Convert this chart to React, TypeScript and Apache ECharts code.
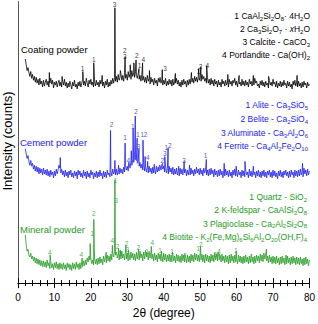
import React, { useEffect, useRef } from "react";
import * as echarts from "echarts";

// x grid of the base traces: 2° .. 80° in 0.25° steps
const X_START = 2;
const X_STEP = 0.25;

// Coating powder (black) – displayed intensity, offset trace
const coatingBase = [
  232, 226, 220, 223, 218, 214, 219, 212, 216, 210, 214, 208, 213, 207, 211, 205, 212, 206, 209, 203,
  210, 204, 208, 211, 205, 209, 203, 207, 212, 206, 210, 202, 208, 205, 209, 203, 207, 210, 204, 208,
  203, 209, 205, 211, 204, 208, 202, 207, 203, 209, 205, 201, 208, 204, 210, 203, 206, 201, 208, 204,
  209, 203, 207, 211, 205, 209, 204, 212, 207, 203, 210, 206, 211, 205, 208, 203, 209, 204, 210, 205,
  208, 203, 210, 206, 211, 204, 208, 202, 209, 205, 211, 203, 208, 204, 210, 206, 212, 207, 213, 209,
  214, 208, 216, 210, 213, 217, 210, 215, 209, 218, 212, 216, 210, 219, 213, 217, 211, 220, 214, 218,
  213, 219, 215, 212, 217, 211, 215, 209, 216, 210, 214, 208, 213, 207, 215, 209, 212, 206, 213, 208,
  211, 205, 212, 207, 210, 204, 212, 208, 213, 207, 211, 205, 210, 206, 212, 204, 209, 205, 211, 206,
  210, 204, 211, 205, 209, 207, 212, 206, 210, 204, 208, 203, 210, 205, 211, 206, 209, 203, 210, 205,
  211, 206, 213, 208, 212, 207, 214, 209, 213, 208, 215, 210, 213, 209, 216, 211, 214, 209, 212, 207,
  213, 207, 211, 205, 212, 206, 210, 204, 211, 206, 209, 203, 210, 205, 208, 203, 211, 206, 209, 204,
  210, 205, 208, 203, 211, 206, 209, 204, 210, 207, 212, 205, 209, 203, 210, 206, 208, 204, 211, 205,
  209, 204, 210, 205, 208, 203, 211, 206, 209, 204, 210, 205, 212, 207, 209, 204, 206, 202, 209, 205,
  210, 204, 208, 203, 209, 205, 207, 202, 210, 205, 208, 204, 211, 206, 208, 203, 209, 202, 207, 204,
  209, 203, 208, 204, 210, 205, 207, 202, 209, 204, 208, 203, 206, 201, 209, 205, 210, 204, 208, 203,
  209, 204, 207, 202, 208, 203, 209, 205, 207, 202, 208, 204, 206,
];
const coatingPeaks = [
  [8.6, 218], [12.1, 214], [17.8, 219], [20.8, 228], [23.1, 215], [26.6, 285],
  [28.1, 220], [29.4, 234], [30.8, 226], [31.8, 228], [32.4, 231], [33.2, 222],
  [34.2, 228], [36.1, 220], [39.6, 221], [43.2, 217], [47.6, 218], [49.6, 222],
  [50.2, 224], [51.8, 225], [57.6, 216], [60.7, 215], [64.6, 215], [68.8, 214],
  [76.6, 215],
];

// Cement powder (blue)
const cementBase = [
  139, 134, 129, 132, 126, 122, 127, 121, 124, 118, 122, 116, 121, 115, 120, 113, 119, 114, 118, 112,
  119, 113, 117, 112, 118, 111, 116, 110, 117, 112, 115, 109, 116, 111, 118, 113, 117, 122, 119, 114,
  118, 112, 116, 110, 117, 111, 115, 109, 116, 112, 117, 110, 114, 109, 116, 111, 115, 108, 117, 112,
  116, 110, 114, 109, 117, 111, 115, 108, 116, 110, 114, 109, 117, 112, 115, 108, 114, 110, 116, 109,
  115, 110, 117, 111, 114, 108, 116, 110, 115, 109, 117, 112, 114, 110, 116, 111, 118, 113, 116, 112,
  118, 112, 117, 113, 119, 114, 118, 113, 120, 115, 122, 117, 121, 116, 124, 119, 126, 122, 128, 125,
  130, 128, 127, 124, 126, 121, 125, 119, 123, 117, 122, 116, 121, 115, 120, 114, 121, 115, 119, 113,
  120, 114, 119, 113, 121, 115, 120, 116, 122, 117, 123, 118, 121, 115, 120, 114, 119, 113, 121, 115,
  119, 113, 120, 112, 118, 113, 119, 112, 117, 111, 119, 113, 118, 112, 120, 114, 118, 111, 117, 112,
  118, 112, 119, 113, 117, 111, 118, 113, 120, 114, 118, 112, 119, 113, 117, 111, 119, 114, 118, 112,
  117, 111, 118, 112, 119, 113, 117, 110, 118, 112, 116, 110, 117, 111, 118, 112, 116, 109, 117, 111,
  118, 112, 116, 110, 117, 111, 115, 109, 117, 112, 118, 111, 116, 110, 117, 112, 115, 109, 117, 111,
  116, 110, 117, 112, 115, 109, 118, 111, 116, 110, 117, 112, 115, 109, 116, 111, 117, 110, 115, 109,
  116, 111, 117, 110, 115, 109, 116, 112, 117, 110, 115, 109, 117, 111, 116, 110, 114, 108, 116, 111,
  117, 110, 115, 109, 116, 112, 117, 111, 115, 109, 116, 110, 117, 112, 115, 109, 117, 111, 116, 110,
  117, 111, 118, 112, 116, 110, 119, 113, 117, 111, 118, 112, 116,
];
const cementPeaks = [
  [11.6, 130], [25.4, 158], [26.6, 127], [27.6, 122], [29.4, 145], [30.4, 125],
  [31.1, 137], [31.6, 160], [32.2, 173], [32.7, 150], [33.2, 139], [34.3, 148],
  [34.9, 131], [35.6, 126], [37.4, 123], [38.8, 122], [39.7, 124], [40.3, 131],
  [41.2, 140], [44.1, 121], [45.6, 126], [47.1, 122], [51.7, 128], [56.6, 124],
  [59.9, 121], [62.3, 126], [64.6, 121], [78.1, 124],
];

// Mineral powder (green)
const mineralBase = [
  50, 40, 33, 35, 29, 27, 31, 25, 28, 23, 27, 21, 26, 20, 25, 19, 24, 18, 23, 17,
  23, 17, 22, 16, 24, 18, 21, 15, 22, 16, 20, 14, 21, 16, 22, 15, 20, 14, 21, 15,
  20, 14, 21, 15, 19, 13, 21, 16, 20, 14, 19, 13, 21, 15, 20, 14, 22, 16, 20, 14,
  21, 15, 22, 17, 23, 18, 24, 19, 26, 22, 28, 24, 25, 20, 24, 19, 26, 20, 25, 19,
  26, 20, 27, 21, 25, 19, 28, 22, 27, 21, 29, 23, 28, 22, 30, 24, 31, 27, 33, 29,
  32, 26, 30, 24, 31, 25, 33, 26, 30, 24, 32, 25, 31, 23, 30, 24, 32, 26, 31, 24,
  30, 23, 32, 25, 31, 24, 33, 26, 30, 23, 32, 25, 34, 27, 31, 24, 33, 26, 32, 25,
  30, 23, 31, 24, 29, 22, 31, 25, 30, 23, 29, 22, 31, 24, 30, 22, 29, 23, 30, 22,
  29, 22, 30, 23, 28, 21, 30, 23, 29, 22, 28, 21, 30, 23, 29, 22, 28, 21, 29, 22,
  28, 21, 30, 23, 29, 22, 31, 24, 30, 23, 29, 22, 31, 24, 30, 22, 29, 21, 30, 23,
  29, 22, 28, 21, 30, 23, 29, 22, 31, 24, 30, 23, 32, 24, 29, 22, 30, 23, 28, 21,
  29, 22, 28, 20, 29, 21, 30, 23, 28, 21, 29, 22, 27, 20, 29, 22, 28, 21, 27, 20,
  28, 21, 29, 22, 27, 20, 28, 21, 29, 22, 27, 20, 28, 21, 29, 23, 28, 21, 30, 23,
  29, 22, 31, 25, 30, 23, 28, 21, 29, 22, 27, 20, 28, 21, 27, 20, 28, 21, 26, 19,
  27, 20, 28, 21, 26, 19, 27, 20, 28, 21, 26, 19, 27, 20, 28, 21, 26, 19, 27, 20,
  26, 19, 27, 20, 25, 18, 26, 19, 27, 20, 25, 18, 24,
];
const mineralPeaks = [
  [8.8, 29], [17.6, 26], [19.8, 41], [20.8, 66], [24.2, 32], [25.9, 39],
  [26.6, 107], [27.6, 36], [28.1, 34], [29.6, 39], [30.3, 34], [33.1, 35],
  [35.3, 32], [36.6, 38], [39.4, 33], [42.4, 32], [45.8, 31], [50.1, 38],
  [54.8, 31], [55.3, 30], [59.9, 33], [64.1, 30], [68.2, 35], [73.6, 29],
];

// Peak index labels: [2θ, height, label]
const coatingLabels: [number, number, string][] = [
  [17.7, 222, "1"], [20.8, 231, "1"], [26.5, 288, "3"], [29.3, 241, "2"], [29.3, 235, "3"],
  [32.6, 236, "2"], [33.4, 225, "1"], [34.4, 231, "4"], [40.4, 222, "3"], [49.5, 219, "1"],
  [50.1, 224, "2"], [52.0, 225, "4"],
];
const cementLabels: [number, number, string][] = [
  [25.7, 164, "2"], [29.4, 151, "1"], [30.3, 127, "4"], [31.5, 162, "1"], [32.4, 178, "2"],
  [32.9, 154, "1"], [33.1, 141, "3"], [34.1, 154, "1"], [35.0, 154, "2"], [35.6, 130, "4"],
  [39.6, 127, "2"], [40.3, 134, "3"], [40.7, 140, "1"], [41.7, 142, "2"], [45.6, 127, "3"],
  [51.5, 132, "1"],
];
const mineralLabels: [number, number, string][] = [
  [8.7, 32, "4"], [17.4, 30, "4"], [20.3, 51, "1"], [20.8, 72, "2"], [25.9, 44, "4"],
  [26.8, 106, "1"], [27.0, 86, "3"], [27.3, 38, "2"], [28.1, 31, "3"], [29.8, 41, "2"],
  [30.0, 35, "3"], [33.0, 37, "2"], [35.5, 33, "1"], [36.9, 42, "4"], [39.0, 34, "1"],
  [42.3, 33, "1"], [49.4, 36, "1"], [50.2, 40, "2"], [54.1, 30, "3"], [55.1, 33, "4"],
  [59.8, 34, "1"],
];

const xTicks = [0, 10, 20, 30, 40, 50, 60, 70, 80];

const coatingLegend = [
  "{n|1 CaAl}{s|2}{n|Si}{s|2}{n|O}{s|8}{n|· 4H}{s|2}{n|O}",
  "{n|2 Ca}{s|3}{n|Si}{s|2}{n|O}{s|7}{n| · }{i|x}{n|H}{s|2}{n|O}",
  "{n|3 Calcite - CaCO}{s|3}",
  "{n|4 Portlandite - Ca(OH)}{s|2}",
];
const cementLegend = [
  "{n|1 Alite - Ca}{s|3}{n|SiO}{s|5}",
  "{n|2 Belite - Ca}{s|2}{n|SiO}{s|4}",
  "{n|3 Aluminate - Ca}{s|3}{n|Al}{s|2}{n|O}{s|6}",
  "{n|4 Ferrite - Ca}{s|4}{n|Al}{s|2}{n|Fe}{s|2}{n|O}{s|10}",
];
const mineralLegend = [
  "{n|1 Quartz - SiO}{s|2}",
  "{n|2 K-feldspar - CaAlSi}{s|3}{n|O}{s|8}",
  "{n|3 Plagioclase - Ca}{s|2}{n|Al}{s|2}{n|Si}{s|2}{n|O}{s|8}",
  "{n|4 Biotite - K}{s|2}{n|(Fe,Mg)}{s|6}{n|Si}{s|6}{n|Al}{s|2}{n|O}{s|20}{n|(OH,F)}{s|4}",
];

const BLACK = "#000000";
const BLUE = "#1a1af2";
const GREEN = "#239b23";
const FONT = "Liberation Sans, Arial, Helvetica, sans-serif";

function build(base: number[], peaks: number[][]) {
  const pts = base.map((v, i) => [X_START + i * X_STEP, v]);
  peaks.forEach((p) => pts.push([p[0], p[1]]));
  pts.sort((a, b) => a[0] - b[0]);
  return pts;
}

function lineSeries(name: string, base: number[], peaks: number[][], color: string) {
  return {
    name,
    type: "line",
    data: build(base, peaks),
    showSymbol: false,
    symbol: "none",
    itemStyle: { color },
    lineStyle: { color, width: 0.8 },
    z: 2,
  };
}

function labelSeries(labels: [number, number, string][], color: string) {
  return {
    type: "scatter",
    symbolSize: 0,
    silent: true,
    z: 5,
    itemStyle: { color },
    data: labels.map((l) => ({ value: [l[0], l[1]], name: l[2] })),
    label: {
      show: true,
      position: "inside",
      formatter: "{b}",
      color,
      textBorderWidth: 0,
      textBorderColor: "transparent",
      fontSize: 6.5,
      fontFamily: FONT,
    },
  };
}

function legendTexts(lines: string[], ys: number[], color: string, right: number) {
  return lines.map((t, i) => ({
    type: "text",
    x: right,
    y: ys[i],
    silent: true,
    style: {
      text: t,
      align: "right",
      verticalAlign: "middle",
      fill: color,
      rich: {
        n: { fontSize: 8.5, fontFamily: FONT, fill: color, lineHeight: 11, verticalAlign: "middle" },
        i: { fontSize: 8.5, fontFamily: FONT, fontStyle: "italic", fill: color, lineHeight: 11, verticalAlign: "middle" },
        s: { fontSize: 6, fontFamily: FONT, fill: color, lineHeight: 6, verticalAlign: "bottom" },
      },
    },
  }));
}

export default function App() {
  const ref = useRef<HTMLDivElement>(null);
  useEffect(() => {
    if (!ref.current) return;
    const chart = echarts.init(ref.current, undefined, { renderer: "svg" });
    const tickCommon = {
      type: "value",
      min: 0,
      max: 80,
      interval: 10,
      axisLine: { show: true, lineStyle: { color: BLACK, width: 1 } },
      axisTick: { show: true, inside: true, length: 5, lineStyle: { color: BLACK, width: 1 } },
      minorTick: { show: true, splitNumber: 5, length: 3, lineStyle: { color: BLACK, width: 1 } },
      splitLine: { show: false },
      minorSplitLine: { show: false },
    };
    chart.setOption({
      animation: false,
      backgroundColor: "#ffffff",
      textStyle: { fontFamily: FONT },
      grid: { left: 18, right: 7, top: 2, bottom: 31, containLabel: false },
      xAxis: [
        {
          ...tickCommon,
          position: "bottom",
          axisLabel: {
            show: true,
            color: BLACK,
            fontSize: 10,
            margin: 9,
            fontFamily: FONT,
            customValues: xTicks,
          },
          name: "2θ (degree)",
          nameLocation: "middle",
          nameGap: 20,
          nameTextStyle: { color: BLACK, fontSize: 12, fontFamily: FONT },
        },
        {
          ...tickCommon,
          position: "top",
          axisLabel: { show: false },
        },
      ],
      yAxis: [
        {
          type: "value",
          min: 0,
          max: 291,
          position: "left",
          axisLine: { show: true, lineStyle: { color: BLACK, width: 1 } },
          axisTick: { show: false },
          axisLabel: { show: false },
          splitLine: { show: false },
        },
        {
          type: "value",
          min: 0,
          max: 291,
          position: "right",
          axisLine: { show: true, lineStyle: { color: "#555555", width: 1 } },
          axisTick: { show: false },
          axisLabel: { show: false },
          splitLine: { show: false },
        },
      ],
      series: [
        lineSeries("Coating powder", coatingBase, coatingPeaks, BLACK),
        lineSeries("Cement powder", cementBase, cementPeaks, BLUE),
        lineSeries("Mineral powder", mineralBase, mineralPeaks, GREEN),
        labelSeries(coatingLabels, BLACK),
        labelSeries(cementLabels, BLUE),
        labelSeries(mineralLabels, GREEN),
      ],
      graphic: [
        {
          type: "text",
          x: 7,
          y: 141,
          rotation: Math.PI / 2,
          silent: true,
          style: { text: "Intensity (counts)", fill: BLACK, fontSize: 13, fontFamily: FONT, align: "center", verticalAlign: "middle" },
        },
        { type: "text", x: 21, y: 49, silent: true, style: { text: "Coating powder", fill: BLACK, fontSize: 9.5, fontFamily: FONT, verticalAlign: "middle" } },
        { type: "text", x: 20, y: 142, silent: true, style: { text: "Cement powder", fill: BLUE, fontSize: 9.5, fontFamily: FONT, verticalAlign: "middle" } },
        { type: "text", x: 20, y: 229, silent: true, style: { text: "Mineral powder", fill: GREEN, fontSize: 9.5, fontFamily: FONT, verticalAlign: "middle" } },
        ...legendTexts(coatingLegend, [16, 29, 42, 55], BLACK, 310),
        ...legendTexts(cementLegend, [105, 119, 133, 146], BLUE, 308),
        ...legendTexts(mineralLegend, [197, 210, 223.5, 237], GREEN, 307),
      ],
    });
    return () => chart.dispose();
  }, []);
  return (
    <div
      ref={ref}
      style={{ position: "fixed", left: 0, top: 0, width: 318, height: 324 }}
    />
  );
}
